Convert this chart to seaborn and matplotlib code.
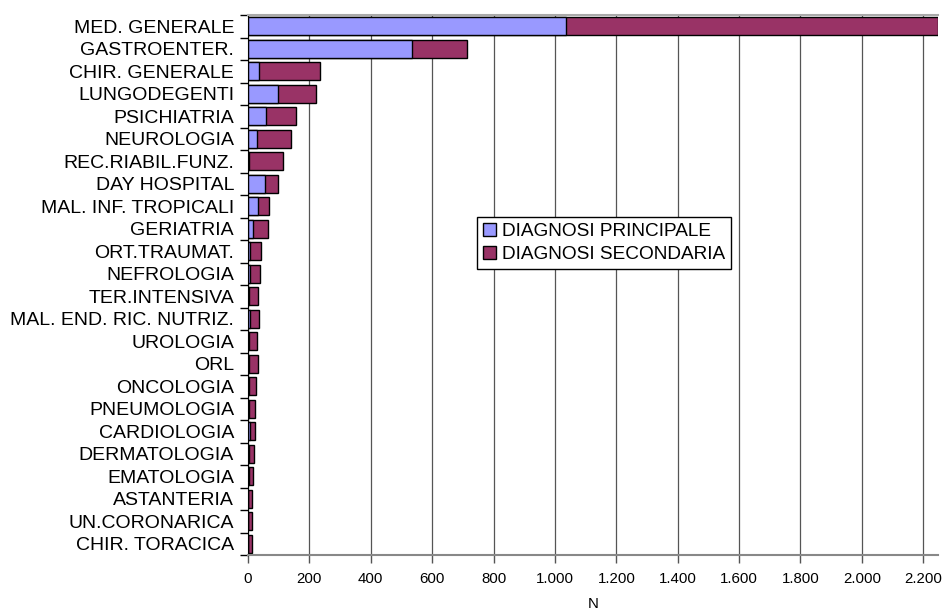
import matplotlib
matplotlib.use("Agg")
import matplotlib.pyplot as plt
import matplotlib.ticker as mticker
from matplotlib.patches import Patch
import seaborn as sns
import pandas as pd

# Dati
reparti = ['MED. GENERALE', 'GASTROENTER.', 'CHIR. GENERALE', 'LUNGODEGENTI',
           'PSICHIATRIA', 'NEUROLOGIA', 'REC.RIABIL.FUNZ.', 'DAY HOSPITAL',
           'MAL. INF. TROPICALI', 'GERIATRIA', 'ORT.TRAUMAT.', 'NEFROLOGIA',
           'TER.INTENSIVA', 'MAL. END. RIC. NUTRIZ.', 'UROLOGIA', 'ORL',
           'ONCOLOGIA', 'PNEUMOLOGIA', 'CARDIOLOGIA', 'DERMATOLOGIA',
           'EMATOLOGIA', 'ASTANTERIA', 'UN.CORONARICA', 'CHIR. TORACICA']
principale = [1037, 533, 37, 99, 59, 28, 4, 54, 33, 16, 8, 8,
              3, 7, 4, 2, 3, 3, 8, 2, 2, 1, 1, 1]
secondaria = [1211, 179, 199, 124, 99, 113, 109, 44, 35, 49, 34, 31,
              31, 28, 26, 29, 23, 21, 15, 17, 14, 12, 12, 11]

df = pd.DataFrame({'Reparto': reparti, 'Principale': principale,
                   'Secondaria': secondaria})
df['Totale'] = df['Principale'] + df['Secondaria']

blu = '#9999FF'
bordeaux = '#993366'

plt.rcParams['font.family'] = ['Liberation Sans', 'DejaVu Sans']

fig = plt.figure(figsize=(9.43, 6.13), dpi=100)
ax = fig.add_axes([248/943, 1-555/613, 690/943, 540/613])

sns.barplot(data=df, x='Totale', y='Reparto', orient='h', color=bordeaux,
            saturation=1, width=0.78, edgecolor='black', linewidth=1, ax=ax)
sns.barplot(data=df, x='Principale', y='Reparto', orient='h', color=blu,
            saturation=1, width=0.78, edgecolor='black', linewidth=1, ax=ax)

ax.set_xlim(0, 2248)
ax.set_ylim(len(reparti) - 0.5, -0.5)
ax.xaxis.set_major_locator(mticker.MultipleLocator(200))
ax.xaxis.set_major_formatter(mticker.FuncFormatter(lambda v, p: f'{int(v):,}'.replace(',', '.')))
ax.grid(True, axis='x', color='#555555', linewidth=0.9)
ax.grid(False, axis='y')
ax.set_axisbelow(True)

# tacche tra le categorie
ax.set_yticks([i + 0.5 for i in range(-1, len(reparti))], minor=True)
ax.tick_params(axis='y', which='major', length=0, labelsize=14, pad=10)
ax.tick_params(axis='y', which='minor', length=6, width=1, color='black')
ax.tick_params(axis='x', length=6, width=1, color='#555555', labelsize=10.8, pad=6)

ax.set_xlabel('N', fontsize=10.8, labelpad=8)
ax.set_ylabel('')

ax.spines['right'].set_visible(False)
ax.spines['left'].set_color('black')
ax.spines['bottom'].set_color('#888888')
ax.spines['bottom'].set_linewidth(1.5)
ax.spines['top'].set_color('#aaaaaa')
ax.spines['top'].set_linewidth(1.5)

handles = [Patch(facecolor=blu, edgecolor='black', label='DIAGNOSI PRINCIPALE'),
           Patch(facecolor=bordeaux, edgecolor='black', label='DIAGNOSI SECONDARIA')]
leg = ax.legend(handles=handles, loc='upper left', bbox_to_anchor=(0.332, 0.626),
                fontsize=13.7, frameon=True, fancybox=False, edgecolor='black',
                framealpha=1, handlelength=0.7, handleheight=0.7,
                handletextpad=0.3, borderpad=0.3, labelspacing=0.3,
                borderaxespad=0)
leg.get_frame().set_linewidth(1)

plt.savefig('out.png', dpi=100)
